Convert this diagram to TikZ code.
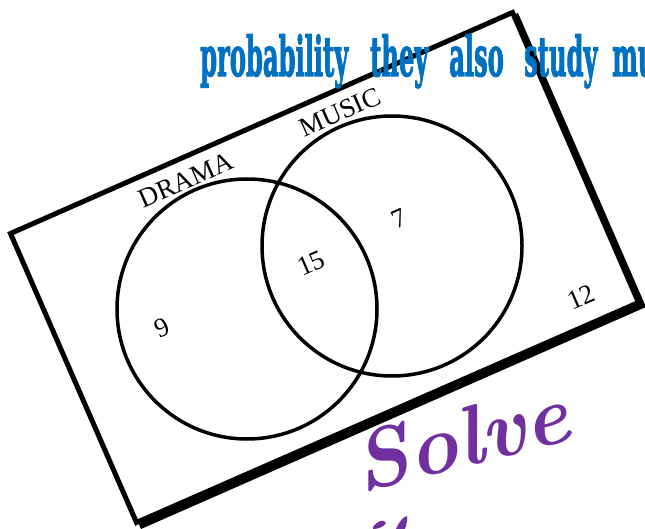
\documentclass[tikz,border=0pt]{standalone}
\usepackage{fontspec}
\usepackage{graphicx}
\newfontfamily\slabfont[FakeBold=2.5]{DejaVu Serif}
\newfontfamily\labfont{Liberation Serif}
\definecolor{qblue}{HTML}{0070C0}
\definecolor{qpurple}{HTML}{7030A0}
\begin{document}
\begin{tikzpicture}[x=1pt,y=-1pt,
  venn/.style={draw=black,line width=3.5pt},
  lab/.style={font=\labfont\fontsize{27}{27}\selectfont, rotate=23.7, inner sep=0pt},
  qword/.style={anchor=base west, inner sep=0pt, text=qblue, font=\slabfont\bfseries\fontsize{55}{55}\selectfont},
  solvestyle/.style={text=qpurple, font=\bfseries\itshape\fontsize{84}{84}\selectfont, rotate=14, inner sep=0pt}]
\useasboundingbox (0,0) rectangle (645,529);
% card shadow and card
\fill[black] (13,235) -- (518,13) -- (646,307) -- (141,529) -- cycle;
\filldraw[fill=white, draw=black, line width=5pt, line join=miter]
  (10.5,233.5) -- (512.5,12.5) -- (638.5,302.5) -- (136.5,522.5) -- cycle;
% circles
\node[venn, circle, minimum size=260pt, inner sep=0pt] (drama) at (247,309) {};
\node[venn, circle, minimum size=260pt, inner sep=0pt] (music) at (392,246) {};
% labels
\node[lab] (ldrama) at (186,180) {DRAMA};
\node[lab] (lmusic) at (340,112) {MUSIC};
\node[lab] (n15) at (311,263) {15};
\node[lab] (n7) at (399,219) {7};
\node[lab] (n9) at (162,328) {9};
\node[lab] (n12) at (581,297) {12};
% blue heading
\node[qword] (w1) at (200,76) {\scalebox{0.44}[1]{probability}};
\node[qword] (w2) at (370,76) {\scalebox{0.44}[1]{they}};
\node[qword] (w3) at (449,76) {\scalebox{0.44}[1]{also}};
\node[qword] (w4) at (524,76) {\scalebox{0.44}[1]{study}};
\node[qword] (w5) at (612,76) {\scalebox{0.44}[1]{mu}};
% purple text
\node[solvestyle] (solve) at (461,438) {Solve};
\fill[qpurple] (373,527) .. controls (378,520) and (384,519) .. (386,523) .. controls (384,527) and (378,529) .. (373,529) -- cycle;
\fill[qpurple] (396,529) .. controls (399,522) and (403,517) .. (407,516) .. controls (408,520) and (406,525) .. (405,529) -- cycle;
\end{tikzpicture}
\end{document}
